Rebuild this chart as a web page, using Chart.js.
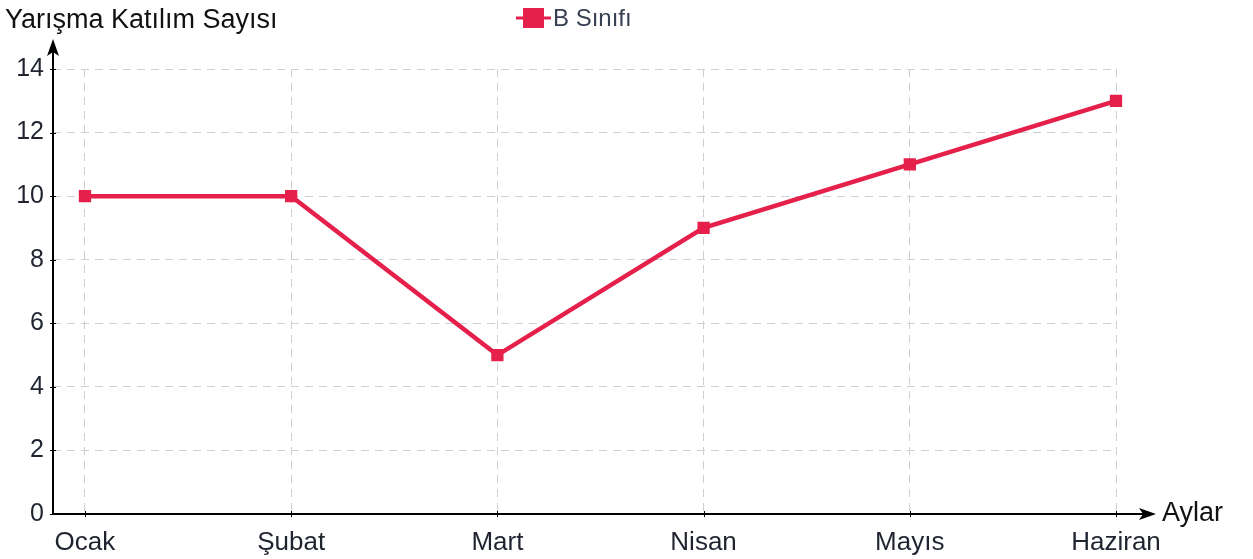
<!DOCTYPE html>
<html>
<head>
<meta charset="utf-8">
<script src="https://cdn.jsdelivr.net/npm/chart.js@4"></script>
<style>
  html, body { margin: 0; padding: 0; background: #fff; }
  #wrap { width: 1253px; height: 559px; position: relative; }
</style>
</head>
<body>
<div id="wrap"><canvas id="lineChart"></canvas></div>
<script>
'use strict';

var months = ['Ocak', 'Şubat', 'Mart', 'Nisan', 'Mayıs', 'Haziran'];
var bSinifi = [10, 10, 5, 9, 11, 13];
var yTicks = [0, 2, 4, 6, 8, 10, 12, 14];
var seriesName = 'B Sınıfı';
var yTitle = 'Yarışma Katılım Sayısı';
var xTitle = 'Aylar';

var red = '#e5214b';
var font = '"Liberation Sans", Arial, sans-serif';

// axes with arrows, small ticks, titles and legend drawn on top
var decor = {
    id: 'decor',
    afterDraw: function(chart) {
        var ctx = chart.ctx;
        var a = chart.chartArea;
        var xs = chart.scales.x, ys = chart.scales.y;
        ctx.save();
        ctx.strokeStyle = '#000';
        ctx.fillStyle = '#000';
        ctx.lineWidth = 2;
        // y axis
        ctx.beginPath();
        ctx.moveTo(a.left, a.bottom);
        ctx.lineTo(a.left, 50);
        ctx.stroke();
        ctx.beginPath();
        ctx.moveTo(a.left, 39);
        ctx.lineTo(a.left - 6, 56);
        ctx.lineTo(a.left, 52);
        ctx.lineTo(a.left + 6, 56);
        ctx.closePath();
        ctx.fill();
        // x axis
        ctx.beginPath();
        ctx.moveTo(a.left, a.bottom);
        ctx.lineTo(1144, a.bottom);
        ctx.stroke();
        ctx.beginPath();
        ctx.moveTo(1156, a.bottom);
        ctx.lineTo(1139, a.bottom - 6);
        ctx.lineTo(1143, a.bottom);
        ctx.lineTo(1139, a.bottom + 6);
        ctx.closePath();
        ctx.fill();
        // small ticks
        ctx.lineWidth = 1;
        yTicks.forEach(function(v) {
            var y = Math.round(ys.getPixelForValue(v)) + 0.5;
            ctx.beginPath();
            ctx.moveTo(a.left - 3, y);
            ctx.lineTo(a.left + 3, y);
            ctx.stroke();
        });
        months.forEach(function(m, i) {
            var x = Math.round(xs.getPixelForValue(i)) + 0.5;
            ctx.beginPath();
            ctx.moveTo(x, a.bottom - 3);
            ctx.lineTo(x, a.bottom + 3);
            ctx.stroke();
        });
        // titles
        ctx.font = '27px ' + font;
        ctx.fillStyle = '#111';
        ctx.textBaseline = 'alphabetic';
        ctx.textAlign = 'left';
        ctx.fillText(yTitle, 5, 28);
        ctx.fillText(xTitle, 1162, 521);
        // legend
        var lx = 516, ly = 18;
        ctx.strokeStyle = red;
        ctx.lineWidth = 3;
        ctx.beginPath();
        ctx.moveTo(lx, ly);
        ctx.lineTo(lx + 35, ly);
        ctx.stroke();
        ctx.fillStyle = red;
        ctx.fillRect(lx + 7, ly - 10, 21, 20);
        ctx.font = '24px ' + font;
        ctx.fillStyle = '#374151';
        ctx.textBaseline = 'middle';
        ctx.fillText(seriesName, lx + 37, ly + 1);
        ctx.restore();
    }
};

var ctx = document.getElementById('lineChart').getContext('2d');
var lineChart = new Chart(ctx, {
    type: 'line',
    data: {
        datasets: [{
            label: seriesName,
            data: bSinifi.map(function(v, i) { return { x: i, y: v }; }),
            borderColor: red,
            backgroundColor: red,
            borderWidth: 4.5,
            pointStyle: 'rect',
            pointRadius: 5.5,
            pointHoverRadius: 5.5,
            tension: 0,
            clip: false
        }]
    },
    options: {
        responsive: true,
        maintainAspectRatio: false,
        animation: false,
        layout: { padding: { left: 0, right: 137, top: 69, bottom: 0 } },
        plugins: {
            legend: { display: false },
            tooltip: { enabled: false }
        },
        scales: {
            x: {
                type: 'linear',
                min: -0.155,
                max: 5,
                afterBuildTicks: function(scale) {
                    scale.ticks = months.map(function(m, i) { return { value: i }; });
                },
                afterFit: function(scale) { scale.height = 45; },
                grid: {
                    color: '#cdd0d6',
                    lineWidth: 1,
                    drawTicks: false
                },
                border: { display: false, dash: [8, 6] },
                ticks: {
                    padding: 13,
                    color: '#1f2430',
                    font: { size: 26, family: font },
                    maxRotation: 0,
                    autoSkip: false,
                    callback: function(v) { return months[v]; }
                }
            },
            y: {
                min: 0,
                max: 14,
                afterBuildTicks: function(scale) {
                    scale.ticks = yTicks.map(function(v) { return { value: v }; });
                },
                afterFit: function(scale) { scale.width = 53; },
                grid: {
                    color: '#cdd0d6',
                    lineWidth: 1,
                    drawTicks: false
                },
                border: { display: false, dash: [8, 6] },
                ticks: {
                    padding: 9,
                    color: '#1f2430',
                    font: { size: 25, family: font }
                }
            }
        }
    },
    plugins: [decor]
});
</script>
</body>
</html>
